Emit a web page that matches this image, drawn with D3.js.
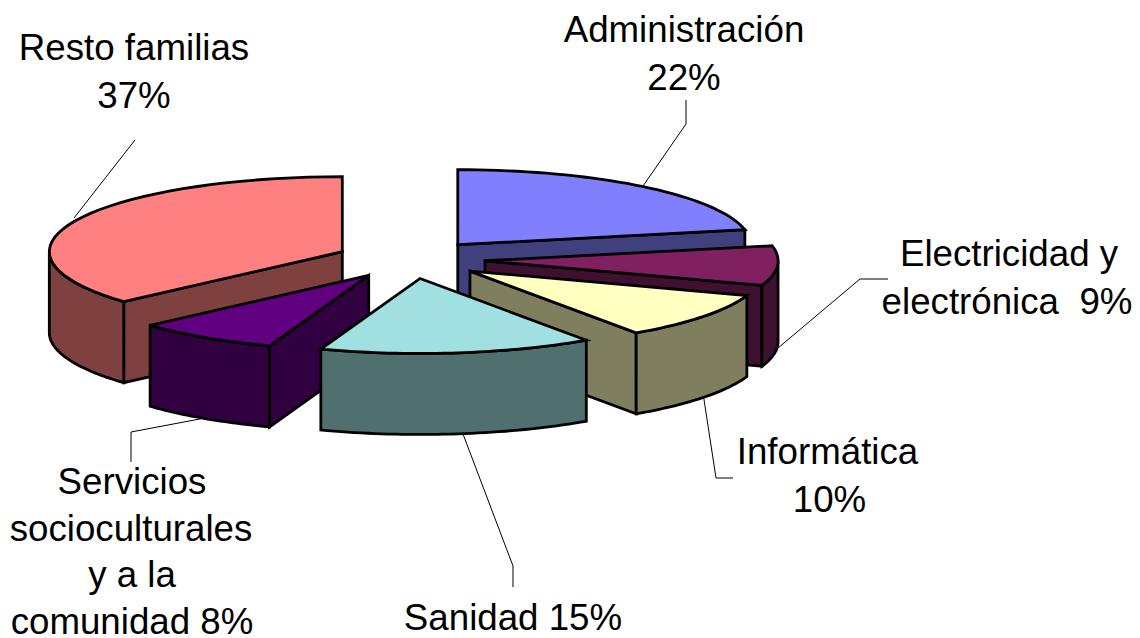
<!DOCTYPE html>
<html><head><meta charset="utf-8">
<style>html,body{margin:0;padding:0;background:#fff;overflow:hidden}svg{display:block}
text{font-family:"Liberation Sans",Arial,sans-serif;font-size:36.7px;fill:#000;text-anchor:middle}</style>
<script src="https://cdn.jsdelivr.net/npm/d3@7/dist/d3.min.js"></script>
</head><body><svg id="c" width="1140" height="638"></svg>
<script>
const categories = ["Administración","Electricidad y electrónica","Informática","Sanidad","Servicios socioculturales y a la comunidad","Resto familias"];
const values = [21.8, 8.5, 10.1, 15.1, 7.9, 36.6];
const topColors = ["#8080FF","#802060","#FFFFC0","#A0E0E0","#600080","#FF8080"];
const sideColors = ["#40407F","#401030","#7F7F60","#507070","#300040","#7F4040"];
const labelLines = [
  ["Administración","22%"],
  ["Electricidad y","electrónica  9%"],
  ["Informática","10%"],
  ["Sanidad 15%"],
  ["Servicios","socioculturales","y a la","comunidad 8%"],
  ["Resto familias","37%"]
];
const labelAnchors = [[684,42],[1009,266],[827.5,464],[513,630],[132,494],[134,60]];
const lineSteps = [48,48,48,48,46.7,48];
const lineShifts = [[0,0],[0,-2],[0,2],[0],[0,-1,0,0],[0,0]];
const leaders = [
  [[686,100],[686,124],[643,186]],
  [[888,279],[860,279],[778,348]],
  [[733,478],[716,478],[703,393]],
  [[513,587],[513,566],[463,434]],
  [[131,462],[131,432],[205,418]],
  [[135,140],[74,218]]
];

const cx=410.5, cy=259.5, rx=293, ry=75, depth=81, explode=0.255;
const drawOrder=[5,0,1,2,4,3];
const svg=d3.select("#c");
const arcs=d3.pie().sort(null).value(d=>d)(values);
const line=d3.line();
const outline="#000";

function project(r,a,mid,z){
  const u=r*Math.sin(a)+explode*Math.sin(mid);
  const v=-r*Math.cos(a)-explode*Math.cos(mid);
  return [cx+u*rx, cy+v*ry+z];
}
function arcPts(a0,a1,mid,z){
  return d3.range(0,41).map(i=>project(1,a0+(a1-a0)*i/40,mid,z));
}
function face(pts,fill,w){
  svg.append("path").attr("d",line(pts)+"Z").attr("fill",fill)
    .attr("stroke",outline).attr("stroke-width",w).attr("stroke-linejoin","miter");
}

// leader lines underneath the solid
leaders.forEach(l=>svg.append("path").attr("d",line(l)).attr("fill","none").attr("stroke","#000").attr("stroke-width",1));

drawOrder.forEach(i=>{
  const {startAngle:a0,endAngle:a1}=arcs[i];
  const mid=(a0+a1)/2, side=sideColors[i];
  const apex=project(0,0,mid,0), apexB=project(0,0,mid,depth);
  const wall=a=>{
    const p=project(1,a,mid,0), q=project(1,a,mid,depth);
    face([apex,p,q,apexB],side,2.8);
  };
  if(Math.sin(a0)<-1e-6) wall(a0);
  if(Math.sin(a1)>1e-6) wall(a1);
  const f0=Math.max(a0,Math.PI/2), f1=Math.min(a1,Math.PI*1.5);
  if(f1>f0){
    face(arcPts(f0,f1,mid,0).concat(arcPts(f1,f0,mid,depth)),side,2.8);
  }
  face([apex].concat(arcPts(a0,a1,mid,0)),topColors[i],2.8);
});

labelLines.forEach((ls,i)=>{
  const [x,y]=labelAnchors[i];
  const t=svg.append("text").attr("x",x).attr("y",y).style("white-space","pre");
  ls.forEach((s,j)=>t.append("tspan").attr("x",x+lineShifts[i][j]).attr("y",y+j*lineSteps[i]).text(s));
});
</script></body></html>
